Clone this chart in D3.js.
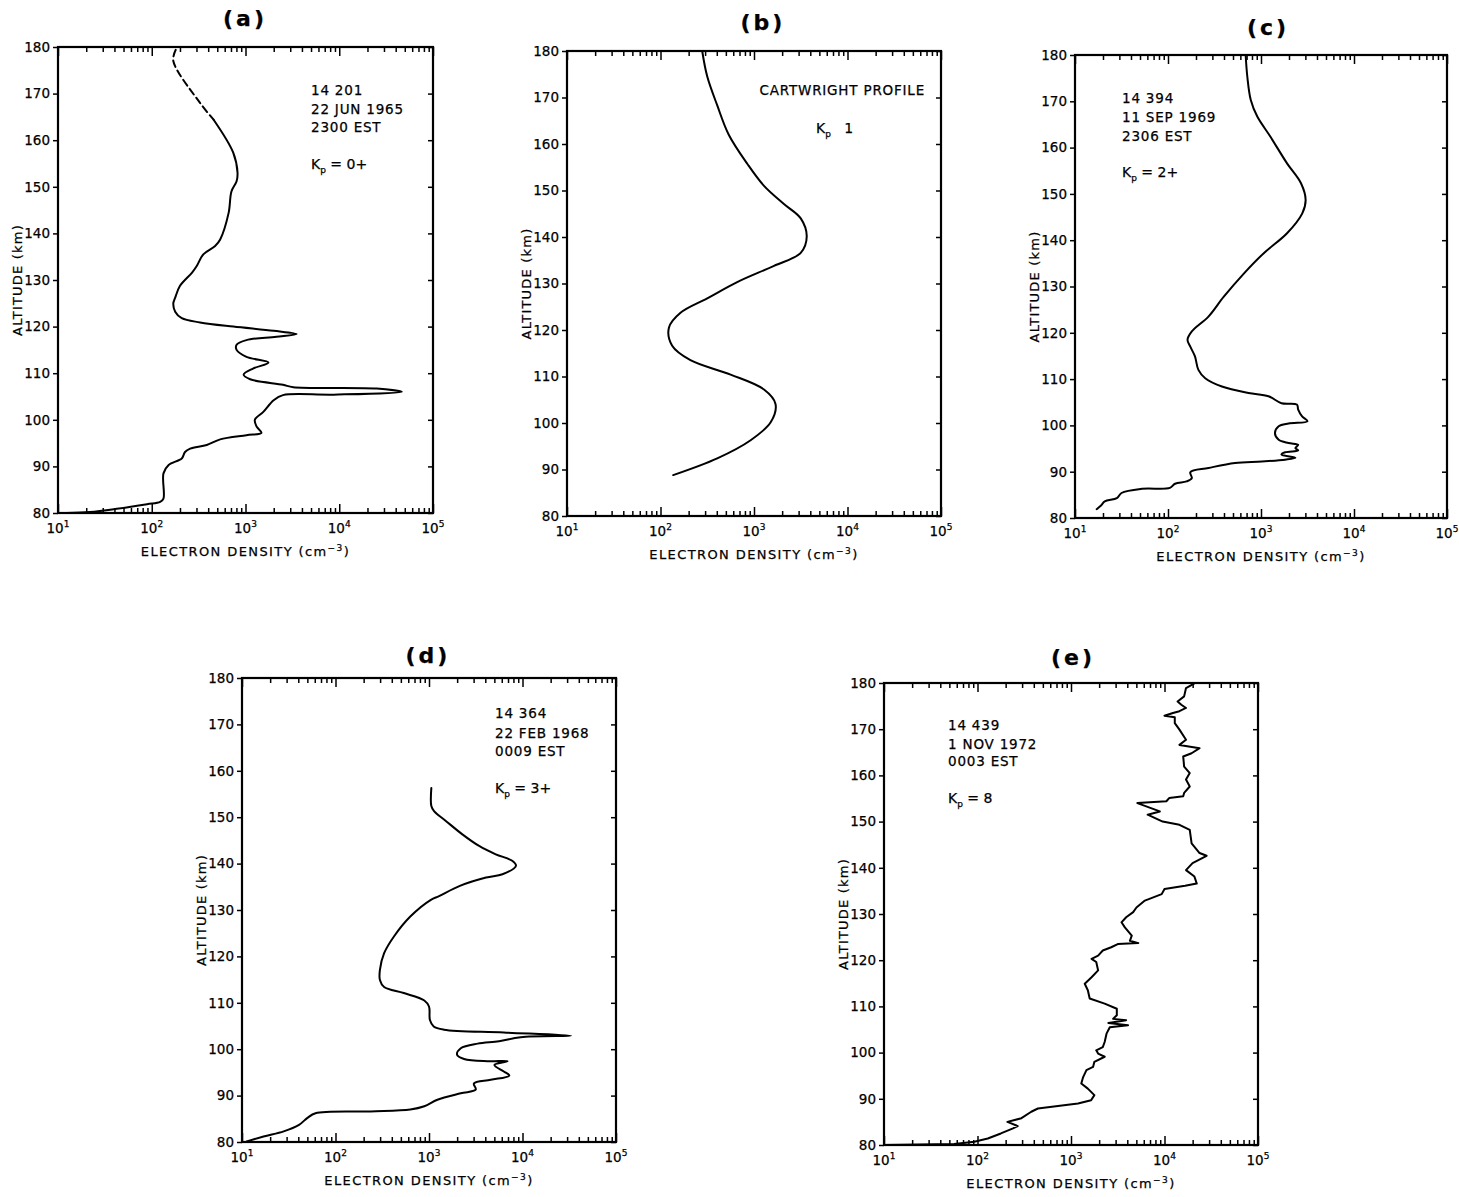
<!DOCTYPE html>
<html><head><meta charset="utf-8">
<script src="https://cdn.jsdelivr.net/npm/d3@7/dist/d3.min.js"></script>
<style>
body{margin:0;background:#fff}
svg text{font-family:"DejaVu Sans",Verdana,sans-serif;fill:#000;stroke:#000;stroke-width:0.25}
</style>
</head><body>
<svg id="chart" width="1459" height="1197"></svg>
<script>
// ---------- tick values / labels ----------
const altitudeTicks = [80, 90, 100, 110, 120, 130, 140, 150, 160, 170, 180];
const densityDecades = [1e1, 1e2, 1e3, 1e4, 1e5];
const densityExponents = ["1", "2", "3", "4", "5"];
const panelTitles = ["(a)", "(b)", "(c)", "(d)", "(e)"];

// ---------- annotation texts ----------
const notesA = ["14 201", "22 JUN 1965", "2300 EST"];
const notesB = ["CARTWRIGHT PROFILE"];
const notesC = ["14 394", "11 SEP 1969", "2306 EST"];
const notesD = ["14 364", "22 FEB 1968", "0009 EST"];
const notesE = ["14 439", "1 NOV 1972", "0003 EST"];
const kpA = " = 0+", kpB = "   1", kpC = " = 2+", kpD = " = 3+", kpE = " = 8";

// ---------- data: altitude (km) and log10 electron density (cm^-3) ----------
// (a) dashed upper part
const aDashAlt = [179.4, 177, 168, 164.4];
const aDashLogNe = [2.256, 2.23, 2.515, 2.66];
// (a) solid part
const aAlt = [164.4, 157.3, 153, 151.2, 149, 144.4, 138.7, 137.3, 135.5, 133, 131.6, 128.7, 126.2, 125, 123.2, 121.8, 120.9, 120, 119.1, 118.4, 117.8, 117.1, 116.1, 115, 113.5, 112.3, 111, 109.7, 108.7, 107.5, 107, 106.7, 106, 105.4, 105.3, 104.2, 101.7, 100, 98.5, 97.2, 96.7, 95.8, 94.6, 93.8, 93.1, 91.7, 90.3, 88.5, 83.1, 82.4, 81.9, 80.9, 80.2, 80];
const aLogNe = [2.66, 2.87, 2.915, 2.905, 2.85, 2.82, 2.73, 2.676, 2.55, 2.48, 2.43, 2.30, 2.25, 2.23, 2.25, 2.32, 2.515, 2.87, 3.30, 3.546, 3.33, 3.01, 2.905, 2.905, 3.01, 3.245, 3.08, 2.98, 3.05, 3.40, 3.51, 4.40, 4.667, 3.94, 3.40, 3.30, 3.19, 3.10, 3.12, 3.17, 3.01, 2.73, 2.587, 2.41, 2.355, 2.32, 2.18, 2.125, 2.125, 2.09, 1.95, 1.626, 1.34, 1.09];

// (b) Cartwright profile
const bAlt = [180, 174.5, 168.3, 162, 155.7, 151, 147.1, 144, 140.1, 136.6, 133.8, 130.3, 126.8, 123.7, 120.5, 116.6, 113.5, 110.4, 107.2, 104.1, 100.2, 96.3, 92.4, 88.8];
const bLogNe = [2.446, 2.5, 2.607, 2.73, 2.93, 3.107, 3.32, 3.5, 3.564, 3.5, 3.214, 2.82, 2.5, 2.214, 2.09, 2.125, 2.32, 2.75, 3.107, 3.23, 3.18, 2.964, 2.607, 2.136];

// (c)
const cAlt = [180, 175.3, 170.3, 166.7, 162.4, 156.6, 152.3, 148.7, 145.8, 141.5, 137.2, 132.9, 127.8, 123.5, 120.3, 118.5, 117, 114.9, 112, 110.2, 108.4, 107, 106.3, 104.8, 104.5, 103.4, 102, 100.9, 100.4, 99.8, 98.3, 96.9, 96.2, 95.8, 95.1, 94.6, 94.2, 93.7, 93, 92.6, 92.2, 91.9, 90.8, 89.9, 88.6, 87.9, 87.4, 86.5, 86.3, 85.4, 84.3, 83.6, 82.7, 81.9];
const cLogNe = [2.835, 2.853, 2.89, 2.96, 3.10, 3.28, 3.43, 3.48, 3.444, 3.28, 3.03, 2.82, 2.60, 2.435, 2.256, 2.21, 2.24, 2.29, 2.327, 2.40, 2.58, 2.865, 3.08, 3.22, 3.386, 3.40, 3.44, 3.50, 3.296, 3.19, 3.15, 3.19, 3.296, 3.40, 3.37, 3.40, 3.26, 3.22, 3.37, 3.26, 3.01, 2.72, 2.435, 2.24, 2.256, 2.20, 2.076, 2.02, 1.72, 1.50, 1.45, 1.32, 1.28, 1.233];

// (d)
const dAlt = [156.3, 152.4, 151.3, 149.2, 146.3, 143.8, 142, 140.6, 139.5, 137.7, 137, 135.2, 133, 132.2, 128.6, 124.3, 120.7, 117.1, 114.9, 113.4, 112.1, 110.5, 109.2, 106.3, 104.9, 104.2, 103.6, 102.9, 102.6, 101.7, 101.2, 100.2, 98.8, 97.9, 97.4, 97.4, 96.6, 95.2, 94.3, 93.4, 92.6, 91.3, 90.5, 89.1, 87.7, 87, 86.6, 86.2, 85.2, 83.7, 82.3, 81.2, 80.1];
const dLogNe = [3.025, 3.025, 3.054, 3.18, 3.357, 3.536, 3.714, 3.89, 3.93, 3.786, 3.61, 3.33, 3.107, 3.02, 2.80, 2.625, 2.52, 2.475, 2.475, 2.52, 2.73, 2.95, 3.0, 3.01, 3.05, 3.16, 3.80, 4.518, 3.98, 3.75, 3.52, 3.34, 3.30, 3.375, 3.625, 3.84, 3.70, 3.80, 3.86, 3.66, 3.48, 3.50, 3.34, 3.09, 2.95, 2.80, 2.375, 1.786, 1.70, 1.61, 1.446, 1.23, 1.05];

// (e)
const eAlt = [179.9, 178.9, 177.1, 176, 175.3, 174.6, 173.9, 173.5, 172.9, 172.6, 171.3, 169.9, 167.7, 166.6, 165.9, 164.8, 164.1, 161.9, 160.5, 159.1, 157.6, 156.2, 155.5, 155.1, 154.4, 154, 152.2, 151.5, 150, 149.3, 148.2, 145.3, 143.2, 142.6, 141, 139.5, 138.1, 136.6, 136.1, 135.4, 134.3, 132.9, 131.4, 130.4, 129.3, 128.2, 127.1, 125.3, 124.2, 123.7, 123.5, 122.8, 122.1, 121, 120.3, 119.6, 117.8, 116.3, 114.9, 113.5, 111.7, 110.6, 109.5, 108.1, 107.3, 107, 106.4, 105.9, 105.5, 104.1, 102.3, 101.2, 100.5, 99.8, 99.1, 98, 96.9, 96.2, 94.7, 93.3, 92.2, 90.8, 89.7, 89, 87.9, 87.2, 85.8, 85, 84.1, 83.6, 82.5, 81.4, 80.7, 80.2, 80];
const eLogNe = [4.32, 4.23, 4.21, 4.14, 4.18, 4.23, 4.16, 4.09, 4.0, 4.11, 4.11, 4.16, 4.23, 4.16, 4.375, 4.29, 4.20, 4.21, 4.27, 4.23, 4.27, 4.21, 4.20, 4.05, 4.02, 3.71, 3.95, 3.82, 3.98, 4.16, 4.27, 4.29, 4.375, 4.45, 4.30, 4.23, 4.32, 4.345, 4.22, 4.0, 3.97, 3.79, 3.70, 3.665, 3.59, 3.54, 3.576, 3.65, 3.63, 3.72, 3.50, 3.43, 3.34, 3.29, 3.22, 3.27, 3.29, 3.22, 3.147, 3.18, 3.20, 3.36, 3.49, 3.49, 3.45, 3.59, 3.40, 3.61, 3.415, 3.38, 3.36, 3.34, 3.27, 3.29, 3.36, 3.25, 3.236, 3.165, 3.13, 3.11, 3.18, 3.25, 3.215, 3.075, 2.646, 2.575, 2.47, 2.32, 2.43, 2.38, 2.25, 2.11, 1.966, 1.75, 1.0];

// ---------- layout (positions only) ----------
const panels = [
  {title: panelTitles[0], x0: 58, x1: 433, y0: 47, y1: 513, tx: 245, ty: 18,
   notes: notesA, kp: kpA, nx: 311, ny: [90, 109, 127], kpy: 164, anchor: "start",
   series: [{alt: aDashAlt, logNe: aDashLogNe, dash: "7,4"}, {alt: aAlt, logNe: aLogNe}], smooth: true},
  {title: panelTitles[1], x0: 567, x1: 941, y0: 51, y1: 516, tx: 763, ty: 22,
   notes: notesB, kp: kpB, nx: 925, ny: [90], kpy: 128, kpx: 816, anchor: "end",
   series: [{alt: bAlt, logNe: bLogNe}], smooth: true},
  {title: panelTitles[2], x0: 1075, x1: 1447, y0: 55, y1: 518, tx: 1268, ty: 27,
   notes: notesC, kp: kpC, nx: 1122, ny: [98, 117, 136], kpy: 172, anchor: "start",
   series: [{alt: cAlt, logNe: cLogNe}], smooth: true},
  {title: panelTitles[3], x0: 242, x1: 616, y0: 678, y1: 1142, tx: 428, ty: 655,
   notes: notesD, kp: kpD, nx: 495, ny: [713, 733, 751], kpy: 788, anchor: "start",
   series: [{alt: dAlt, logNe: dLogNe}], smooth: true},
  {title: panelTitles[4], x0: 884, x1: 1258, y0: 683, y1: 1145, tx: 1073, ty: 657,
   notes: notesE, kp: kpE, nx: 948, ny: [725, 744, 761], kpy: 798, anchor: "start",
   series: [{alt: eAlt, logNe: eLogNe}], smooth: false}
];

const svg = d3.select("#chart");
svg.append("rect").attr("width", 1459).attr("height", 1197).attr("fill", "#fff");

panels.forEach(p => {
  const g = svg.append("g");
  const x = d3.scaleLog().domain([1e1, 1e5]).range([p.x0, p.x1]);
  const y = d3.scaleLinear().domain([80, 180]).range([p.y1, p.y0]);

  const minor = x.ticks().filter(v => !densityDecades.includes(v));

  // bottom axis: inward ticks
  const bot = g.append("g").attr("transform", `translate(0,${p.y1})`);
  bot.call(d3.axisBottom(x).tickValues(minor).tickSize(-5).tickFormat(""));
  bot.select(".domain").remove();
  const botMaj = g.append("g").attr("transform", `translate(0,${p.y1})`);
  botMaj.call(d3.axisBottom(x).tickValues(densityDecades).tickSize(-9).tickFormat(""));
  botMaj.select(".domain").remove();
  // top axis
  const top = g.append("g").attr("transform", `translate(0,${p.y0})`);
  top.call(d3.axisTop(x).tickValues(minor).tickSize(-5).tickFormat(""));
  top.select(".domain").remove();
  const topMaj = g.append("g").attr("transform", `translate(0,${p.y0})`);
  topMaj.call(d3.axisTop(x).tickValues(densityDecades).tickSize(-9).tickFormat(""));
  topMaj.select(".domain").remove();
  // left / right axes
  const left = g.append("g").attr("transform", `translate(${p.x0},0)`);
  left.call(d3.axisLeft(y).tickValues(altitudeTicks).tickSize(5).tickPadding(3).tickFormat(d3.format("d")));
  left.select(".domain").remove();
  left.selectAll("text").attr("font-size", 13.5).attr("font-family", '"DejaVu Sans",sans-serif').attr("fill", "#000");
  const right = g.append("g").attr("transform", `translate(${p.x1},0)`);
  right.call(d3.axisRight(y).tickValues(altitudeTicks).tickSize(-5).tickFormat(""));
  right.select(".domain").remove();
  g.selectAll(".tick line").attr("stroke", "#000").attr("stroke-width", 1.5);

  // frame
  g.append("rect").attr("x", p.x0).attr("y", p.y0)
    .attr("width", p.x1 - p.x0).attr("height", p.y1 - p.y0)
    .attr("fill", "none").attr("stroke", "#000").attr("stroke-width", 2.2);

  // x tick labels 10^n
  densityDecades.forEach((v, i) => {
    const t = g.append("text").attr("x", x(v)).attr("y", p.y1 + 20)
      .attr("text-anchor", "middle").attr("font-size", 13.5);
    t.append("tspan").text("10");
    t.append("tspan").attr("dy", -6).attr("font-size", 9).text(densityExponents[i]);
  });

  // axis titles
  const xl = g.append("text").attr("x", (p.x0 + p.x1) / 2).attr("y", p.y1 + 43)
    .attr("text-anchor", "middle").attr("font-size", 13).attr("letter-spacing", 1.4);
  xl.append("tspan").text("ELECTRON DENSITY  (cm");
  xl.append("tspan").attr("dy", -5).attr("font-size", 9).text("−3");
  xl.append("tspan").attr("dy", 5).text(")");

  g.append("text")
    .attr("transform", `translate(${p.x0 - 36},${(p.y0 + p.y1) / 2}) rotate(-90)`)
    .attr("text-anchor", "middle").attr("font-size", 13).attr("letter-spacing", 1.2)
    .text("ALTITUDE (km)");

  // panel title
  g.append("text").attr("x", p.tx).attr("y", p.ty + 8)
    .attr("text-anchor", "middle").attr("font-size", 22).attr("font-weight", "bold")
    .attr("stroke-width", 0.3).attr("letter-spacing", 3).text(p.title);

  // notes
  p.notes.forEach((s, i) => {
    g.append("text").attr("x", p.nx).attr("y", p.ny[i] + 5)
      .attr("text-anchor", p.anchor).attr("font-size", 13.5)
      .attr("letter-spacing", 0.8).text(s);
  });
  const kp = g.append("text").attr("x", p.kpx || p.nx).attr("y", p.kpy + 5)
    .attr("text-anchor", "start").attr("font-size", 14);
  kp.append("tspan").text("K");
  kp.append("tspan").attr("dy", 4).attr("font-size", 9).text("p");
  kp.append("tspan").attr("dy", -4).style("white-space", "pre").text(p.kp);

  // curves
  const clip = "clip" + p.title.replace(/\W/g, "");
  svg.append("clipPath").attr("id", clip).append("rect")
    .attr("x", p.x0).attr("y", p.y0 - 1).attr("width", p.x1 - p.x0).attr("height", p.y1 - p.y0 + 1);
  p.series.forEach(s => {
    const pts = s.alt.map((a, i) => [Math.pow(10, s.logNe[i]), a]);
    const line = d3.line().x(d => x(d[0])).y(d => y(d[1]))
      .curve(p.smooth ? d3.curveCatmullRom.alpha(0.5) : d3.curveLinear);
    g.append("path").datum(pts).attr("d", line)
      .attr("clip-path", `url(#${clip})`)
      .attr("fill", "none").attr("stroke", "#000").attr("stroke-width", 2)
      .attr("stroke-linejoin", "round").attr("stroke-linecap", "round")
      .attr("stroke-dasharray", s.dash || null);
  });
});
</script>
</body></html>
